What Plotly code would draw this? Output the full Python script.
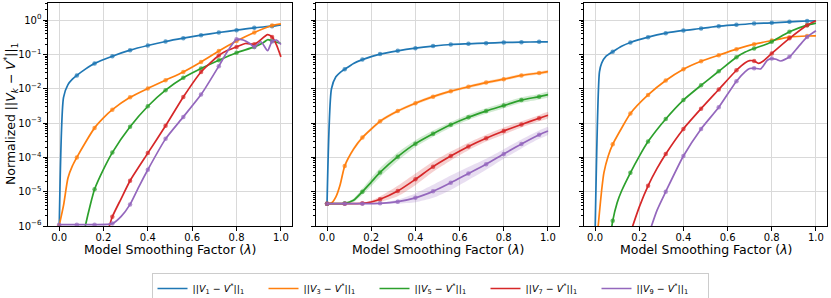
import plotly.graph_objects as go
import numpy as np

COLORS = ['#1f77b4', '#ff7f0e', '#2ca02c', '#d62728', '#9467bd']
LABELS = ['||<i>V</i><sub>%d</sub> \u2212 <i>V</i><sup>*</sup>||<sub>1</sub>' % k for k in (1, 3, 5, 7, 9)]
X_TICKS = [0.0, 0.2, 0.4, 0.6, 0.8, 1.0]
Y_TICK_EXP = [-6, -5, -4, -3, -2, -1, 0]
Y_TICK_TEXT = ['10<sup>\u2212%d</sup>' % (-e) if e < 0 else '10<sup>0</sup>' for e in Y_TICK_EXP]
X_TITLE = 'Model Smoothing Factor (<i>\u03bb</i>)'
Y_TITLE = 'Normalized ||<i>V</i><sub><i>k</i></sub> \u2212 <i>V</i><sup>*</sup>||<sub>1</sub>'

# ---------------- Left panel (values are log10 of the normalized error) ----------------
left_v1_x = [0.0, 0.02, 0.04, 0.06, 0.08, 0.12, 0.16, 0.24, 0.32, 0.40, 0.48, 0.56, 0.64, 0.72, 0.80, 0.88, 0.96, 1.0]
left_v1_y = [-6.3, -2.25, -1.88, -1.72, -1.61, -1.42, -1.26, -1.05, -0.874, -0.738, -0.621, -0.524, -0.437, -0.359, -0.291, -0.223, -0.175, -0.136]
left_v3_x = [0.0, 0.02, 0.04, 0.06, 0.08, 0.12, 0.16, 0.20, 0.24, 0.32, 0.40, 0.48, 0.56, 0.64, 0.72, 0.80, 0.88, 0.96, 1.0]
left_v3_y = [-6.0, -5.4, -4.6, -4.25, -4.0, -3.55, -3.14, -2.85, -2.61, -2.25, -1.99, -1.75, -1.51, -1.22, -0.90, -0.61, -0.36, -0.155, -0.11]
left_v5_x = [0.10, 0.12, 0.14, 0.16, 0.20, 0.24, 0.32, 0.40, 0.48, 0.56, 0.64, 0.72, 0.80, 0.88, 0.92, 0.94, 0.96, 1.0]
left_v5_y = [-6.6, -5.95, -5.4, -4.93, -4.35, -3.86, -3.11, -2.51, -2.04, -1.68, -1.41, -1.17, -0.95, -0.78, -0.66, -0.57, -0.60, -0.68]
left_v7_x = [0.22, 0.24, 0.28, 0.32, 0.40, 0.48, 0.56, 0.64, 0.72, 0.76, 0.80, 0.84, 0.88, 0.90, 0.94, 0.96, 0.98, 1.0]
left_v7_y = [-6.15, -5.73, -5.2, -4.68, -3.875, -3.08, -2.24, -1.51, -1.03, -0.88, -0.78, -0.68, -0.70, -0.62, -0.42, -0.49, -0.72, -1.07]
left_v9_x = [0.0, 0.08, 0.16, 0.24, 0.28, 0.32, 0.36, 0.40, 0.48, 0.56, 0.64, 0.72, 0.76, 0.80, 0.83, 0.86, 0.88, 0.91, 0.94, 0.96, 0.98, 1.0]
left_v9_y = [-5.96, -5.96, -5.96, -5.93, -5.72, -5.37, -4.85, -4.36, -3.46, -2.82, -2.17, -1.34, -0.90, -0.56, -0.58, -0.68, -0.78, -0.63, -0.89, -0.62, -0.58, -0.71]

# ---------------- Middle panel ----------------
mid_v1_x = [0.0, 0.02, 0.04, 0.06, 0.08, 0.12, 0.16, 0.24, 0.32, 0.40, 0.48, 0.56, 0.64, 0.72, 0.80, 0.88, 0.96, 1.0]
mid_v1_y = [-5.35, -2.0, -1.65, -1.52, -1.43, -1.26, -1.15, -0.99, -0.893, -0.816, -0.757, -0.71, -0.689, -0.67, -0.65, -0.641, -0.633, -0.631]
mid_v3_x = [0.0, 0.02, 0.04, 0.06, 0.08, 0.12, 0.16, 0.24, 0.32, 0.40, 0.48, 0.56, 0.64, 0.72, 0.80, 0.88, 0.96, 1.0]
mid_v3_y = [-5.35, -5.33, -5.15, -4.78, -4.25, -3.76, -3.42, -2.95, -2.65, -2.42, -2.23, -2.07, -1.94, -1.82, -1.72, -1.61, -1.54, -1.50]
mid_v3_band = [0.0, 0.01, 0.03, 0.05, 0.06, 0.06, 0.05, 0.05, 0.045, 0.045, 0.045, 0.045, 0.045, 0.045, 0.045, 0.045, 0.045, 0.045]
mid_v5_x = [0.0, 0.04, 0.08, 0.12, 0.16, 0.20, 0.24, 0.32, 0.40, 0.48, 0.56, 0.64, 0.72, 0.80, 0.88, 0.96, 1.0]
mid_v5_y = [-5.35, -5.35, -5.34, -5.25, -5.0, -4.72, -4.44, -3.98, -3.60, -3.31, -3.05, -2.83, -2.65, -2.49, -2.33, -2.23, -2.17]
mid_v5_band = [0.0, 0.0, 0.01, 0.05, 0.09, 0.12, 0.13, 0.12, 0.10, 0.09, 0.08, 0.08, 0.08, 0.08, 0.08, 0.08, 0.08]
mid_v7_x = [0.0, 0.08, 0.16, 0.20, 0.24, 0.32, 0.40, 0.48, 0.56, 0.64, 0.72, 0.80, 0.88, 0.96, 1.0]
mid_v7_y = [-5.35, -5.35, -5.34, -5.30, -5.22, -4.98, -4.64, -4.27, -3.96, -3.68, -3.44, -3.23, -3.04, -2.86, -2.77]
mid_v7_band = [0.0, 0.0, 0.01, 0.04, 0.08, 0.15, 0.17, 0.15, 0.13, 0.11, 0.10, 0.10, 0.09, 0.09, 0.09]
mid_v9_x = [0.0, 0.08, 0.16, 0.24, 0.32, 0.40, 0.48, 0.56, 0.64, 0.72, 0.80, 0.88, 0.96, 1.0]
mid_v9_y = [-5.35, -5.35, -5.35, -5.34, -5.29, -5.18, -4.99, -4.74, -4.47, -4.20, -3.90, -3.61, -3.34, -3.23]
mid_v9_band = [0.0, 0.0, 0.0, 0.01, 0.06, 0.13, 0.19, 0.21, 0.19, 0.16, 0.14, 0.13, 0.12, 0.11]

# ---------------- Right panel ----------------
right_v1_x = [0.0, 0.02, 0.03, 0.05, 0.08, 0.12, 0.16, 0.24, 0.32, 0.40, 0.48, 0.56, 0.64, 0.72, 0.80, 0.88, 0.96, 1.0]
right_v1_y = [-6.3, -1.51, -1.25, -1.05, -0.92, -0.76, -0.65, -0.495, -0.379, -0.30, -0.243, -0.175, -0.136, -0.097, -0.078, -0.049, -0.025, -0.02]
right_v3_x = [0.01, 0.02, 0.03, 0.04, 0.06, 0.08, 0.12, 0.16, 0.24, 0.32, 0.40, 0.48, 0.56, 0.64, 0.72, 0.80, 0.88, 0.96, 1.0]
right_v3_y = [-6.3, -5.6, -4.95, -4.45, -3.95, -3.62, -3.15, -2.72, -2.18, -1.76, -1.43, -1.20, -1.02, -0.845, -0.70, -0.595, -0.495, -0.462, -0.46]
right_v5_x = [0.07, 0.08, 0.10, 0.12, 0.16, 0.20, 0.24, 0.32, 0.40, 0.48, 0.56, 0.64, 0.68, 0.72, 0.76, 0.80, 0.88, 0.96, 1.0]
right_v5_y = [-6.3, -5.85, -5.32, -4.98, -4.45, -3.97, -3.54, -2.88, -2.33, -1.90, -1.49, -1.08, -0.93, -0.825, -0.74, -0.63, -0.34, -0.146, -0.085]
right_v7_x = [0.16, 0.20, 0.24, 0.28, 0.32, 0.40, 0.48, 0.56, 0.64, 0.68, 0.70, 0.72, 0.74, 0.76, 0.80, 0.88, 0.96, 1.0]
right_v7_y = [-6.2, -5.45, -4.83, -4.33, -3.90, -3.17, -2.58, -2.02, -1.46, -1.24, -1.18, -1.19, -1.26, -1.20, -0.97, -0.53, -0.146, -0.02]
right_v9_x = [0.24, 0.28, 0.32, 0.40, 0.48, 0.56, 0.64, 0.68, 0.70, 0.72, 0.75, 0.78, 0.80, 0.82, 0.84, 0.88, 0.92, 0.96, 1.0]
right_v9_y = [-6.3, -5.55, -5.0, -3.96, -3.17, -2.54, -1.78, -1.50, -1.41, -1.40, -1.42, -1.17, -1.12, -1.14, -1.19, -1.07, -0.78, -0.49, -0.31]

panels = [
    [(left_v1_x, left_v1_y, None), (left_v3_x, left_v3_y, None), (left_v5_x, left_v5_y, None),
     (left_v7_x, left_v7_y, None), (left_v9_x, left_v9_y, None)],
    [(mid_v1_x, mid_v1_y, None), (mid_v3_x, mid_v3_y, mid_v3_band), (mid_v5_x, mid_v5_y, mid_v5_band),
     (mid_v7_x, mid_v7_y, mid_v7_band), (mid_v9_x, mid_v9_y, mid_v9_band)],
    [(right_v1_x, right_v1_y, None), (right_v3_x, right_v3_y, None), (right_v5_x, right_v5_y, None),
     (right_v7_x, right_v7_y, None), (right_v9_x, right_v9_y, None)],
]

MARK_STEP = 0.08
FONT = 'DejaVu Sans'


def rgba(hexc, a):
    h = hexc.lstrip('#')
    return 'rgba(%d,%d,%d,%.2f)' % (int(h[0:2], 16), int(h[2:4], 16), int(h[4:6], 16), a)


fig = go.Figure()
for p, series in enumerate(panels):
    xa = 'x' if p == 0 else 'x%d' % (p + 1)
    ya = 'y' if p == 0 else 'y%d' % (p + 1)
    for s, (xs, ys, band) in enumerate(series):
        if band is None:
            continue
        xs_a = np.array(xs)
        ys_a = np.array(ys)
        bw = np.array(band)
        up = 10 ** (ys_a + bw)
        lo = 10 ** (ys_a - bw)
        fig.add_trace(go.Scatter(
            x=np.concatenate([xs_a, xs_a[::-1]]), y=np.concatenate([up, lo[::-1]]),
            fill='toself', fillcolor=rgba(COLORS[s], 0.22), line=dict(width=0, shape='spline', smoothing=0.6),
            mode='lines', hoverinfo='skip', showlegend=False, xaxis=xa, yaxis=ya))
    for s, (xs, ys, band) in enumerate(series):
        xs_a = np.array(xs)
        yv = 10 ** np.array(ys)
        on_mark = np.abs(xs_a / MARK_STEP - np.round(xs_a / MARK_STEP)) < 1e-6
        sizes = np.where(on_mark & (np.array(ys) >= -6.0), 4.5, 0)
        fig.add_trace(go.Scatter(
            x=xs_a, y=yv, mode='lines+markers',
            line=dict(color=COLORS[s], width=1.7, shape='spline', smoothing=0.6),
            marker=dict(color=COLORS[s], size=sizes, line=dict(width=0)),
            showlegend=False, xaxis=xa, yaxis=ya))

for s in range(5):
    fig.add_trace(go.Scatter(x=[None], y=[None], mode='lines', name=LABELS[s],
                             line=dict(color=COLORS[s], width=1.7), xaxis='x', yaxis='y'))

W, H = 831, 298
ML, MR, MT, MB = 48, 4, 3, 72
pw = W - ML - MR
ph = H - MT - MB
domains = [(48, 292), (316, 559), (584, 827)]

minor_vals = [m * 10.0 ** e for e in range(-6, 1) for m in range(2, 10)]

annotations = []
for p in range(3):
    d0, d1 = domains[p]
    annotations.append(dict(
        text=X_TITLE, xref='paper', yref='paper',
        x=((d0 + d1) / 2 - ML) / pw, y=(H - MB - 249.5) / ph,
        xanchor='center', yanchor='middle', showarrow=False,
        font=dict(size=12.5, family=FONT, color='black')))
annotations.append(dict(
    text=Y_TITLE, xref='paper', yref='paper', textangle=-90,
    x=(11 - ML) / pw, y=(H - MB - 114) / ph,
    xanchor='center', yanchor='middle', showarrow=False,
    font=dict(size=12.5, family=FONT, color='black')))

layout = dict(
    width=W, height=H, margin=dict(l=ML, r=MR, t=MT, b=MB, autoexpand=False),
    paper_bgcolor='white', plot_bgcolor='white',
    font=dict(family=FONT, size=10, color='black'),
    showlegend=True,
    legend=dict(orientation='h', x=430 / W, xref='container', xanchor='center',
                y=1 - 273 / H, yref='container', yanchor='top',
                bordercolor='#cccccc', borderwidth=1, font=dict(size=9.5, family=FONT),
                entrywidth=66, entrywidthmode='pixels', itemwidth=30, tracegroupgap=0),
    annotations=annotations,
)
for p in range(3):
    d0, d1 = domains[p]
    key = '' if p == 0 else str(p + 1)
    layout['xaxis' + key] = dict(
        domain=[(d0 - ML) / pw, (d1 - ML) / pw], anchor='y' + key,
        range=[-0.05, 1.05], tickvals=X_TICKS, ticktext=['%.1f' % v for v in X_TICKS],
        ticks='outside', ticklen=3.5, tickwidth=1, tickcolor='black',
        ticklabelstandoff=-2, automargin=False,
        showline=True, linecolor='black', linewidth=1.2, mirror=True,
        showgrid=True, gridcolor='#d9d9d9', gridwidth=1, zeroline=False,
        tickfont=dict(size=10, family=FONT),
    )
    layout['yaxis' + key] = dict(
        type='log', range=[-6, 0.5], anchor='x' + key, automargin=False,
        tickvals=[10.0 ** e for e in Y_TICK_EXP], ticktext=Y_TICK_TEXT,
        showticklabels=(p == 0),
        ticks='outside', ticklen=3.5, tickwidth=1, tickcolor='black',
        minor=dict(tickvals=minor_vals, ticks='outside', ticklen=2, tickwidth=0.8, tickcolor='black', showgrid=False),
        showline=True, linecolor='black', linewidth=1.2, mirror=True,
        showgrid=True, gridcolor='#d9d9d9', gridwidth=1, zeroline=False,
        tickfont=dict(size=10, family=FONT),
    )

fig.update_layout(**layout)
fig.write_html('out.html', config={'displayModeBar': False},
               post_script="document.body.style.margin='0px';document.body.style.padding='0px';")
